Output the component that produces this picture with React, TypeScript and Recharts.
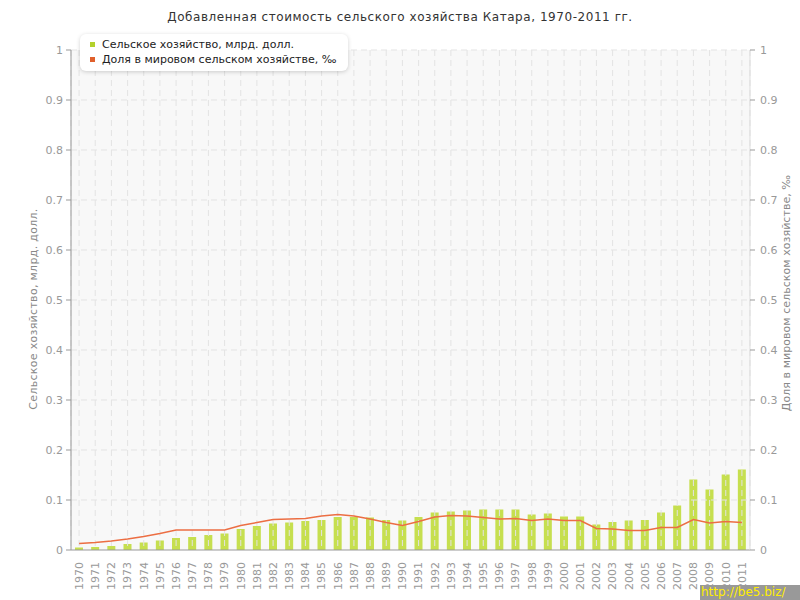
import React from 'react';
import { ComposedChart, Bar, Line, XAxis, YAxis, CartesianGrid, Legend } from 'recharts';

const years: string[] = [
  '1970','1971','1972','1973','1974','1975','1976','1977','1978','1979',
  '1980','1981','1982','1983','1984','1985','1986','1987','1988','1989',
  '1990','1991','1992','1993','1994','1995','1996','1997','1998','1999',
  '2000','2001','2002','2003','2004','2005','2006','2007','2008','2009',
  '2010','2011',
];

const agriValue: number[] = [
  0.005, 0.006, 0.008, 0.012, 0.015, 0.019, 0.024, 0.026, 0.030, 0.033,
  0.042, 0.048, 0.053, 0.055, 0.058, 0.060, 0.066, 0.066, 0.065, 0.060,
  0.059, 0.066, 0.075, 0.077, 0.079, 0.081, 0.081, 0.081, 0.071, 0.073,
  0.067, 0.067, 0.051, 0.056, 0.059, 0.060, 0.075, 0.089, 0.141, 0.121,
  0.151, 0.161,
];

const worldShare: number[] = [
  0.013, 0.015, 0.018, 0.022, 0.027, 0.033, 0.040, 0.040, 0.040, 0.040,
  0.049, 0.055, 0.061, 0.062, 0.063, 0.068, 0.071, 0.068, 0.062, 0.055,
  0.049, 0.057, 0.066, 0.069, 0.068, 0.065, 0.062, 0.063, 0.059, 0.062,
  0.059, 0.059, 0.043, 0.042, 0.039, 0.039, 0.045, 0.045, 0.061, 0.054,
  0.057, 0.055,
];

const yTicks: number[] = [0, 0.1, 0.2, 0.3, 0.4, 0.5, 0.6, 0.7, 0.8, 0.9, 1];

const title = 'Добавленная стоимость сельского хозяйства Катара, 1970-2011 гг.';
const leftLabel = 'Сельское хозяйство, млрд. долл.';
const rightLabel = 'Доля в мировом сельском хозяйстве, ‰';

const data = years.map((y, i) => ({ year: y, agri: agriValue[i], share: worldShare[i] }));

const FONT = '"DejaVu Sans", Verdana, sans-serif';
const BAR_COLOR = '#c6df4f';
const LINE_COLOR = '#ec6e43';

const XTick = (props: any) => {
  const { x, y, payload } = props;
  const yy = y + 4;
  return (
    <text
      x={x}
      y={yy}
      transform={`rotate(-90, ${x}, ${yy})`}
      textAnchor="end"
      dy="0.35em"
      fontSize={11}
      fontFamily={FONT}
      fill="#999"
    >
      {payload.value}
    </text>
  );
};

const fmt = (v: number) => String(v);

const LegendContent = () => (
  <div
    style={{
      background: '#fff',
      borderRadius: 6,
      boxShadow: '0 1px 4px rgba(0,0,0,0.18)',
      padding: '3px 12px 4px 10px',
      fontFamily: FONT,
      fontSize: 11,
      color: '#222',
      lineHeight: '15px',
    }}
  >
    <div style={{ display: 'flex', alignItems: 'center', whiteSpace: 'nowrap' }}>
      <span style={{ display: 'inline-block', width: 5, height: 5, background: '#b3d12c', marginRight: 7 }} />
      {leftLabel}
    </div>
    <div style={{ display: 'flex', alignItems: 'center', whiteSpace: 'nowrap' }}>
      <span style={{ display: 'inline-block', width: 5, height: 5, background: '#e0602c', marginRight: 7 }} />
      {rightLabel}
    </div>
  </div>
);

export default function App() {
  return (
    <div style={{ position: 'absolute', left: 0, top: 0, width: 800, height: 600, background: '#fff' }}>
      <ComposedChart
        width={800}
        height={600}
        data={data}
        margin={{ top: 50, right: 0, bottom: 0, left: 0 }}
      >
        <text x={400} y={21} textAnchor="middle" fontSize={12} letterSpacing={0.55} fontFamily={FONT} fill="#333">
          {title}
        </text>
        <CartesianGrid yAxisId="left" fill="#f8f8f8" horizontal={false} vertical={false} />
        <XAxis
          dataKey="year"
          interval={0}
          height={50}
          tick={<XTick />}
          tickLine={false}
          axisLine={{ stroke: '#999' }}
        />
        <YAxis
          yAxisId="left"
          orientation="left"
          width={71}
          domain={[0, 1]}
          ticks={yTicks}
          tickFormatter={fmt}
          tick={{ fontSize: 11, fontFamily: FONT, fill: '#999' }}
          tickSize={5}
          tickMargin={3}
          axisLine={{ stroke: '#999' }}
          tickLine={{ stroke: '#999' }}
          label={{
            content: (p: any) => {
              const vb = p.viewBox;
              const cx = vb.x + 33;
              const cy = vb.y + vb.height / 2 + 9;
              return (
                <text x={cx} y={cy} transform={`rotate(-90, ${cx}, ${cy})`} textAnchor="middle" dy="0.35em" fontSize={11} letterSpacing={0.3} fontFamily={FONT} fill="#888">
                  {leftLabel}
                </text>
              );
            },
          }}
        />
        <YAxis
          yAxisId="right"
          orientation="right"
          width={50}
          domain={[0, 1]}
          ticks={yTicks}
          tickFormatter={fmt}
          tick={{ fontSize: 11, fontFamily: FONT, fill: '#999' }}
          tickSize={5}
          tickMargin={5}
          axisLine={{ stroke: '#ddd' }}
          tickLine={{ stroke: '#999' }}
          label={{
            content: (p: any) => {
              const vb = p.viewBox;
              const cx = vb.x + 36;
              const cy = vb.y + vb.height / 2 - 7;
              return (
                <text x={cx} y={cy} transform={`rotate(-90, ${cx}, ${cy})`} textAnchor="middle" dy="0.35em" fontSize={11} letterSpacing={0.05} fontFamily={FONT} fill="#888">
                  {rightLabel}
                </text>
              );
            },
          }}
        />
        <Bar yAxisId="left" dataKey="agri" fill={BAR_COLOR} barSize={8} isAnimationActive={false} />
        <CartesianGrid
          yAxisId="left"
          fill="none"
          stroke="#e3e3e3"
          strokeDasharray="6 4"
          horizontalValues={yTicks.slice(1)}
          zIndex={350}
        />
        <Line
          yAxisId="right"
          dataKey="share"
          stroke={LINE_COLOR}
          strokeWidth={1.5}
          dot={false}
          activeDot={false}
          isAnimationActive={false}
        />
        <Legend
          layout="vertical"
          align="center"
          verticalAlign="middle"
          content={<LegendContent />}
          wrapperStyle={{ position: 'absolute', top: 34, left: 80, width: 'auto' }}
        />
      </ComposedChart>
      <div
        style={{
          position: 'absolute',
          left: 700,
          top: 585,
          width: 100,
          height: 15,
          background: '#999',
          color: '#ffee00',
          fontFamily: FONT,
          fontSize: 12,
          lineHeight: '15px',
          paddingLeft: 1,
          boxSizing: 'border-box',
          overflow: 'hidden',
          whiteSpace: 'nowrap',
        }}
      >
        http://be5.biz/
      </div>
    </div>
  );
}
